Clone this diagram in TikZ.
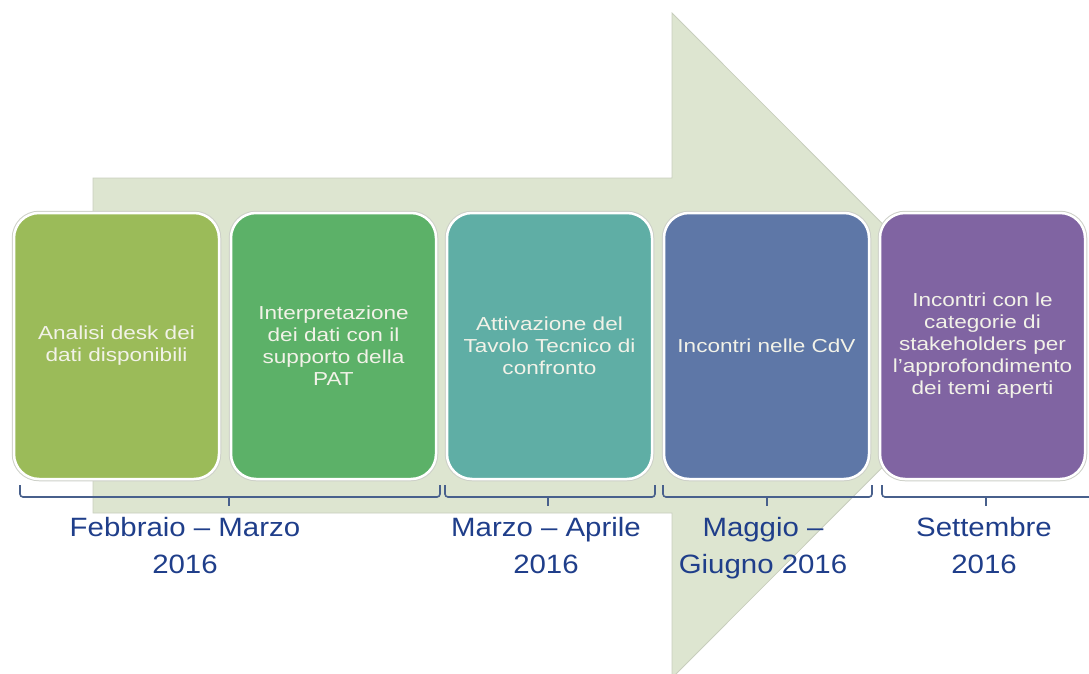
\documentclass[tikz,border=0pt]{standalone}
\usepackage{fontspec}
\newfontfamily\boxfont[FakeStretch=1.2]{Liberation Sans}
\newfontfamily\datefont[FakeStretch=1.11]{Liberation Sans}
\definecolor{arrowfill}{RGB}{221,229,208}
\definecolor{arrowedge}{RGB}{200,206,190}
\definecolor{boxshadow}{RGB}{205,208,200}
\definecolor{boxtext}{RGB}{242,242,232}
\definecolor{cA}{RGB}{155,187,89}
\definecolor{cB}{RGB}{92,177,104}
\definecolor{cC}{RGB}{95,174,165}
\definecolor{cD}{RGB}{94,119,167}
\definecolor{cE}{RGB}{128,100,162}
\definecolor{datecol}{RGB}{31,62,138}
\definecolor{bracketcol}{RGB}{72,96,140}
\begin{document}
\begin{tikzpicture}[x=1pt,y=-1pt,
  stepbox/.style={rounded corners=25pt, minimum width=205pt, minimum height=266pt,
    draw=white, line width=2.5pt, preaction={draw=boxshadow, line width=4.5pt},
    text=boxtext, font=\boxfont\fontsize{18.8}{22}\selectfont, align=center,
    text width=192pt, inner sep=0pt},
  datelabel/.style={text=datecol, font=\datefont\fontsize{26.5}{36.6}\selectfont,
    align=center, inner sep=0pt, anchor=base},
  bracket/.style={draw=bracketcol, line width=1.6pt, rounded corners=3pt}]
\clip (0,0) rectangle (1089,674);
\useasboundingbox (0,0) rectangle (1089,674);
% big arrow
\fill[arrowfill, draw=arrowedge, line width=0.8pt]
  (93,178) -- (672,178) -- (672,13) -- (1004,345.5) -- (672,678) -- (672,513) -- (93,513) -- cycle;
% boxes
\node[stepbox, fill=cA] (b1) at (116.5,346) {Analisi desk dei\\dati disponibili};
\node[stepbox, fill=cB] (b2) at (333.5,346) {Interpretazione\\dei dati con il\\supporto della\\PAT};
\node[stepbox, fill=cC] (b3) at (549.5,346) {Attivazione del\\Tavolo Tecnico di\\confronto};
\node[stepbox, fill=cD] (b4) at (766.5,346) {Incontri nelle CdV};
\node[stepbox, fill=cE] (b5) at (982.5,346) {Incontri con le\\categorie di\\stakeholders per\\l’approfondimento\\dei temi aperti};
% brackets
\draw[bracket] (20,485) -- (20,497) -- (440,497) -- (440,485);
\draw[bracketcol, line width=1.6pt] (229,497) -- (229,506);
\draw[bracket] (445,485) -- (445,497) -- (655,497) -- (655,485);
\draw[bracketcol, line width=1.6pt] (548,497) -- (548,506);
\draw[bracket] (663,485) -- (663,497) -- (872,497) -- (872,485);
\draw[bracketcol, line width=1.6pt] (767,497) -- (767,506);
\draw[bracket] (882,485) -- (882,497) -- (1095,497) -- (1095,485);
\draw[bracketcol, line width=1.6pt] (986,497) -- (986,506);
% date labels (anchor base = baseline of last line)
\node[datelabel] (d1) at (185,573) {Febbraio – Marzo\\2016};
\node[datelabel] (d2) at (546,573) {Marzo – Aprile\\2016};
\node[datelabel] (d3) at (763,573) {Maggio –\\Giugno 2016};
\node[datelabel] (d4) at (984,573) {Settembre\\2016};
\end{tikzpicture}
\end{document}
